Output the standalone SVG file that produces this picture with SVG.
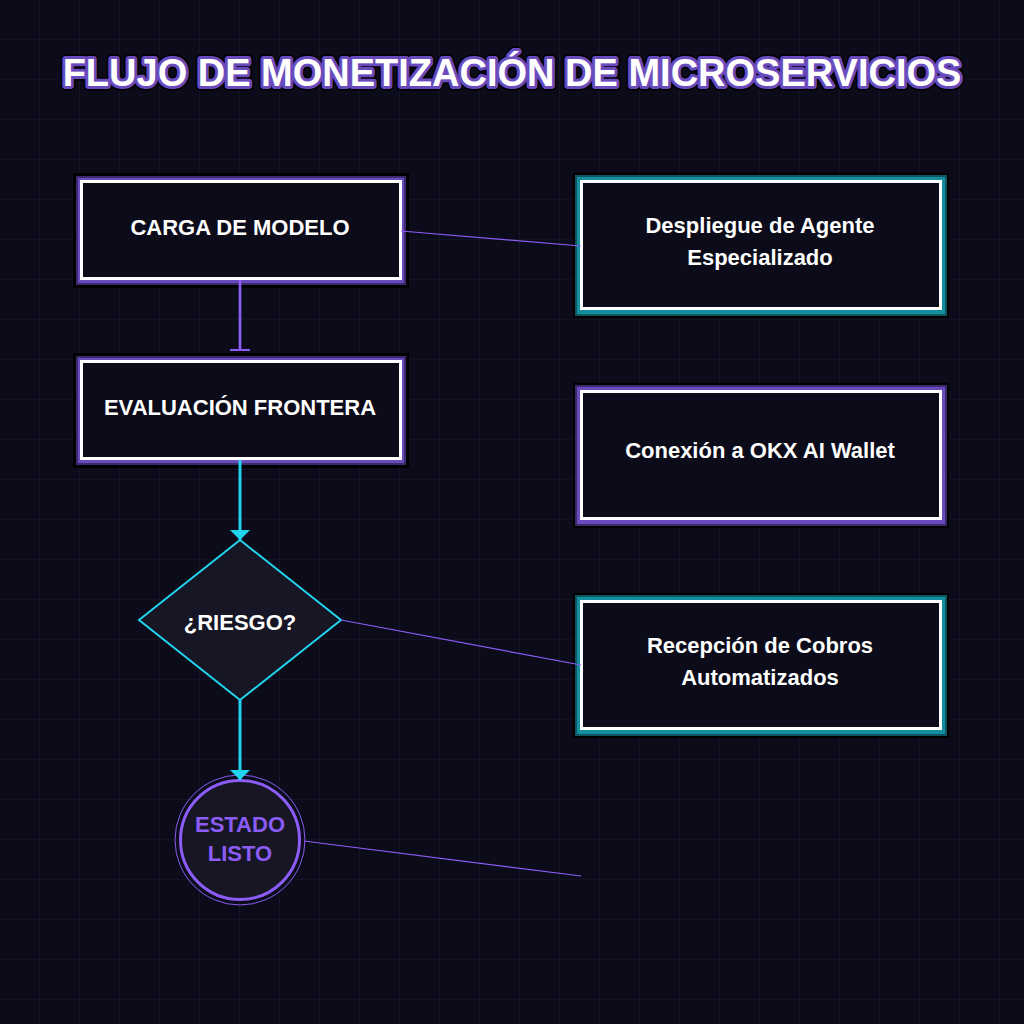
<svg xmlns="http://www.w3.org/2000/svg" width="1024" height="1024" viewBox="0 0 1024 1024">
  <defs>
    <pattern id="grid" width="40" height="40" patternUnits="userSpaceOnUse">
      <path d="M40 0 V40 M0 40 H40" fill="none" stroke="#1a1a2d" stroke-width="1.2"/>
    </pattern>
    <marker id="arrowCyan" viewBox="0 0 10 20" refX="10" refY="10" markerWidth="10" markerHeight="20" markerUnits="userSpaceOnUse" orient="auto">
      <path d="M0 0 L10 10 L0 20 Z" fill="#22d3ee"/>
    </marker>
    <marker id="teePurple" viewBox="0 0 4 20" refX="3" refY="10" markerWidth="4" markerHeight="20" markerUnits="userSpaceOnUse" orient="auto">
      <rect x="1" y="0" width="2" height="20" fill="#8b5cf6"/>
    </marker>
  </defs>
  <style>
    .label { font-family: "Liberation Sans", Arial, sans-serif; font-weight: bold; font-size: 22px; fill: #ffffff; text-anchor: middle; }
    .title { font-family: "Liberation Sans", Arial, sans-serif; font-weight: bold; font-size: 38px; text-anchor: middle; }
    .frame-black { fill: #000000; }
    .glow-purple-o { fill: #3b2a6e; }
    .glow-purple-i { fill: #6a4bbd; }
    .glow-teal-o { fill: #0d5560; }
    .glow-teal-i { fill: #138f9f; }
    .box { fill: #0b0b1a; stroke: #ffffff; stroke-width: 3; }
    .link { fill: none; stroke: #8b5cf6; stroke-width: 1.2; }
    .flow-cyan { fill: none; stroke: #22d3ee; stroke-width: 3; }
  </style>

  <!-- background and grid -->
  <rect width="1024" height="1024" fill="#0b0b1a"/>
  <rect width="1024" height="1024" fill="url(#grid)"/>

  <!-- title -->
  <g id="title">
    <text class="title" x="512" y="86" fill="#000" stroke="#000" stroke-width="9" stroke-linejoin="round">FLUJO DE MONETIZACIÓN DE MICROSERVICIOS</text>
    <text class="title" x="512" y="86" fill="#6a4bbd" stroke="#6a4bbd" stroke-width="6" stroke-linejoin="round">FLUJO DE MONETIZACIÓN DE MICROSERVICIOS</text>
    <text class="title" x="512" y="86" fill="#ffffff">FLUJO DE MONETIZACIÓN DE MICROSERVICIOS</text>
  </g>

  <!-- CARGA DE MODELO -->
  <g id="node-carga">
    <rect class="frame-black" x="73" y="173" width="336" height="115"/>
    <rect class="glow-purple-o" x="76" y="176" width="330" height="109"/>
    <rect class="glow-purple-i" x="78" y="178" width="326" height="105"/>
    <rect class="box" x="81.5" y="181.5" width="319" height="97"/>
    <text class="label" x="240" y="235">CARGA DE MODELO</text>
  </g>

  <!-- EVALUACIÓN FRONTERA -->
  <g id="node-evaluacion">
    <rect class="frame-black" x="73" y="353" width="336" height="115"/>
    <rect class="glow-purple-o" x="76" y="356" width="330" height="109"/>
    <rect class="glow-purple-i" x="78" y="358" width="326" height="105"/>
    <rect class="box" x="81.5" y="361.5" width="319" height="97"/>
    <text class="label" x="240" y="415">EVALUACIÓN FRONTERA</text>
  </g>

  <!-- ¿RIESGO? -->
  <g id="node-riesgo">
    <polygon points="240,540 341,620 240,700 139,620" fill="#161624" stroke="#22d3ee" stroke-width="2"/>
    <text class="label" x="240" y="630">¿RIESGO?</text>
  </g>

  <!-- ESTADO LISTO -->
  <g id="node-estado">
    <circle cx="240" cy="840" r="65" fill="none" stroke="#8b5cf6" stroke-width="1"/>
    <circle cx="240" cy="840" r="59.5" fill="#161624" stroke="#8b5cf6" stroke-width="3"/>
    <text class="label" x="240" y="832" style="fill:#8b5cf6">ESTADO</text>
    <text class="label" x="240" y="861" style="fill:#8b5cf6">LISTO</text>
  </g>

  <!-- Despliegue de Agente Especializado -->
  <g id="node-despliegue">
    <rect class="frame-black" x="573" y="173" width="376" height="145"/>
    <rect class="glow-teal-o" x="575" y="175" width="372" height="141"/>
    <rect class="glow-teal-i" x="577" y="177" width="368" height="137"/>
    <rect class="box" x="581.5" y="181.5" width="359" height="127"/>
    <text class="label" x="760" y="233">Despliegue de Agente</text>
    <text class="label" x="760" y="265">Especializado</text>
  </g>

  <!-- Conexión a OKX AI Wallet -->
  <g id="node-conexion">
    <rect class="frame-black" x="573" y="383" width="376" height="145"/>
    <rect class="glow-purple-o" x="575" y="385" width="372" height="141"/>
    <rect class="glow-purple-i" x="577" y="387" width="368" height="137"/>
    <rect class="box" x="581.5" y="391.5" width="359" height="127"/>
    <text class="label" x="760" y="458">Conexión a OKX AI Wallet</text>
  </g>

  <!-- Recepción de Cobros Automatizados -->
  <g id="node-recepcion">
    <rect class="frame-black" x="573" y="593" width="376" height="145"/>
    <rect class="glow-teal-o" x="575" y="595" width="372" height="141"/>
    <rect class="glow-teal-i" x="577" y="597" width="368" height="137"/>
    <rect class="box" x="581.5" y="601.5" width="359" height="127"/>
    <text class="label" x="760" y="653">Recepción de Cobros</text>
    <text class="label" x="760" y="685">Automatizados</text>
  </g>

  <!-- connectors, drawn over the node frames -->
  <g id="connectors">
    <line class="link" x1="401" y1="231" x2="581" y2="246"/>
    <line class="link" x1="341" y1="620" x2="581" y2="665"/>
    <line class="link" x1="304" y1="841" x2="581" y2="876"/>
    <line x1="240" y1="280" x2="240" y2="351" stroke="#8b5cf6" stroke-width="2.7" marker-end="url(#teePurple)"/>
    <line class="flow-cyan" x1="240" y1="460" x2="240" y2="540" marker-end="url(#arrowCyan)"/>
    <line class="flow-cyan" x1="240" y1="700" x2="240" y2="780" marker-end="url(#arrowCyan)"/>
  </g>
</svg>
